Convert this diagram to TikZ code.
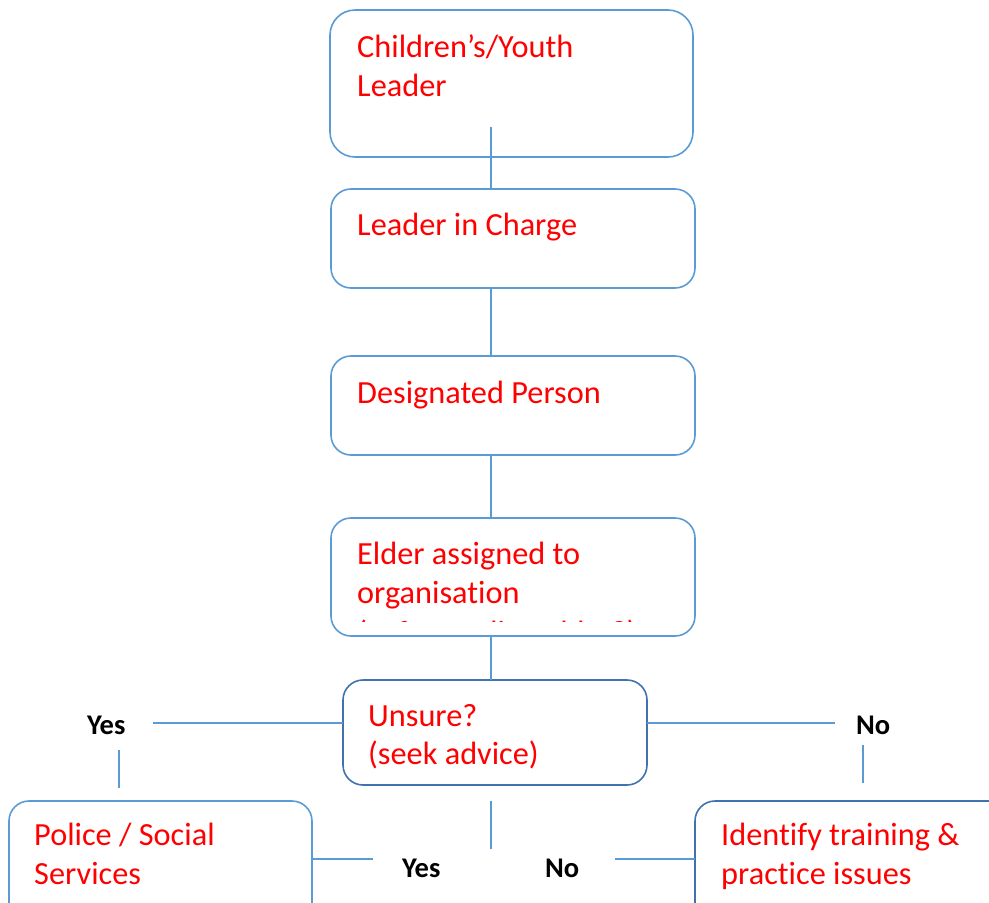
\documentclass[tikz,border=0pt]{standalone}
\usepackage{fontspec}
\setmainfont[RawFeature={-liga;-clig}]{Carlito}
\definecolor{ln}{HTML}{5B9BD5}
\definecolor{dk}{HTML}{3F72AF}
\definecolor{rd}{HTML}{FF0000}
\begin{document}
\begin{tikzpicture}[x=1pt,y=-1pt,
  box/.style={draw=ln,line width=1.6pt,rounded corners=20pt,anchor=north west,inner sep=0pt,outer sep=0pt},
  dbox/.style={box,draw=dk},
  txt/.style={text=rd,font=\fontsize{32.3}{39}\selectfont,anchor=base west,inner sep=0pt},
  lab/.style={text=black,font=\fontsize{28.5}{34}\selectfont\bfseries,anchor=base west,inner sep=0pt},
  conn/.style={draw=ln,line width=1.6pt}]
\useasboundingbox (0,0) rectangle (989,903);
\clip (0,0) rectangle (989,903);
% boxes
\node[box,rounded corners=25pt,minimum width=363pt,minimum height=147pt] (b1) at (330,10) {};
\node[box,minimum width=364pt,minimum height=99pt] (b2) at (331,189) {};
\node[box,minimum width=364pt,minimum height=99pt] (b3) at (331,356) {};
\node[box,minimum width=364pt,minimum height=118pt] (b4) at (331,518) {};
\node[dbox,minimum width=304pt,minimum height=105pt] (b5) at (343,680) {};
\node[box,minimum width=303pt,minimum height=140pt] (b6) at (9,801) {};
\node[dbox,minimum width=330pt,minimum height=140pt] (b7) at (695,801) {};
% texts
\node[txt] (t1a) at (357,57) {Children’s/Youth};
\node[txt] (t1b) at (357,96) {Leader};
\node[txt] (t2) at (357,235) {Leader in Charge};
\node[txt] (t3) at (357,403) {Designated Person};
\node[txt] (t4a) at (357,564) {Elder assigned to};
\node[txt] (t4b) at (357,603) {organisation};
\begin{scope}
\clip (331,520) rectangle (695,621);
\node[txt] (t4c) at (357,643) {(Safeguarding Elder?)};
\end{scope}
\node[txt] (t5a) at (368,726) {Unsure?};
\node[txt] (t5b) at (368,764) {(seek advice)};
\node[txt] (t6a) at (34,845) {Police / Social};
\node[txt] (t6b) at (34,884) {Services};
\node[txt] (t7a) at (721,845) {Identify training \&};
\node[txt] (t7b) at (721,884) {practice issues};
% labels
\node[lab] (yes1) at (87,734) {Yes};
\node[lab] (no1) at (856,734) {No};
\node[lab] (yes2) at (402,877) {Yes};
\node[lab] (no2) at (545,877) {No};
% connector coordinates
\coordinate (ax) at (491,0);
\coordinate (s1) at (491,127);
\coordinate (hy) at (0,723);
\coordinate (ly) at (0,859);
\coordinate (yl) at (153,723);
\coordinate (nr) at (835,723);
\coordinate (v1a) at (119,750);
\coordinate (v1b) at (119,788);
\coordinate (v2a) at (863,745);
\coordinate (v2b) at (863,783);
\coordinate (cva) at (491,801);
\coordinate (cvb) at (491,849);
\coordinate (by) at (373,859);
\coordinate (bn) at (615,859);
% connectors
\draw[conn] (s1) -- (ax |- b2.north);
\draw[conn] (ax |- b2.south) -- (ax |- b3.north);
\draw[conn] (ax |- b3.south) -- (ax |- b4.north);
\draw[conn] (ax |- b4.south) -- (ax |- b5.north);
\draw[conn] (hy -| b5.west) -- (yl);
\draw[conn] (hy -| b5.east) -- (nr);
\draw[conn] (v1a) -- (v1b);
\draw[conn] (v2a) -- (v2b);
\draw[conn] (cva) -- (cvb);
\draw[conn] (ly -| b6.east) -- (by);
\draw[conn] (bn) -- (ly -| b7.west);
\end{tikzpicture}
\end{document}
